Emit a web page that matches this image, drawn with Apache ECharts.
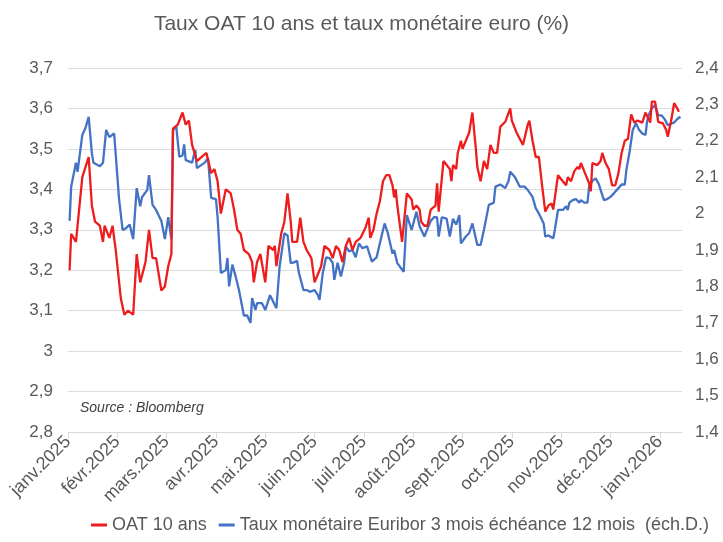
<!DOCTYPE html>
<html>
<head>
<meta charset="utf-8">
<script src="https://cdn.jsdelivr.net/npm/echarts@6/dist/echarts.min.js"></script>
<style>html,body{margin:0;padding:0;background:#fff}#c{width:723px;height:542px}</style>
</head>
<body>
<div id="c"></div>
<script>
const titleText = "Taux OAT 10 ans et taux monétaire euro (%)";
const sourceText = "Source : Bloomberg";
const seriesNames = ["OAT 10 ans", "Taux monétaire Euribor 3 mois échéance 12 mois  (éch.D.)"];
const monthLabels = ["janv.2025","févr.2025","mars.2025","avr.2025","mai.2025","juin.2025","juil.2025","août.2025","sept.2025","oct.2025","nov.2025","déc.2025","janv.2026"];

const oatDates = [
"2025-01-02","2025-01-03","2025-01-06","2025-01-10","2025-01-14","2025-01-16","2025-01-18","2025-01-21","2025-01-23","2025-01-24","2025-01-27","2025-01-29","2025-01-31",
"2025-02-03","2025-02-05","2025-02-07","2025-02-10","2025-02-12","2025-02-14","2025-02-17","2025-02-19","2025-02-21","2025-02-23","2025-02-26","2025-02-28",
"2025-03-02","2025-03-04","2025-03-05","2025-03-08","2025-03-11","2025-03-13","2025-03-15","2025-03-17","2025-03-20","2025-03-26","2025-03-29","2025-03-31",
"2025-04-02","2025-04-04","2025-04-07","2025-04-10","2025-04-12","2025-04-14","2025-04-16","2025-04-18","2025-04-21","2025-04-23","2025-04-24","2025-04-26","2025-04-28",
"2025-05-01","2025-05-03","2025-05-06","2025-05-07","2025-05-08","2025-05-11","2025-05-13","2025-05-15","2025-05-17","2025-05-18","2025-05-21","2025-05-23","2025-05-25","2025-05-27","2025-05-30",
"2025-06-01","2025-06-03","2025-06-05","2025-06-07","2025-06-10","2025-06-12","2025-06-14","2025-06-16","2025-06-18","2025-06-20","2025-06-22","2025-06-24","2025-06-26","2025-06-29",
"2025-07-02","2025-07-04","2025-07-05","2025-07-07","2025-07-09","2025-07-11","2025-07-13","2025-07-15","2025-07-17","2025-07-19","2025-07-20","2025-07-21","2025-07-22","2025-07-25","2025-07-28","2025-07-31",
"2025-08-01","2025-08-03","2025-08-05","2025-08-06","2025-08-08","2025-08-10","2025-08-12","2025-08-15","2025-08-16","2025-08-17","2025-08-20","2025-08-22","2025-08-24","2025-08-25","2025-08-26","2025-08-28","2025-08-29","2025-08-31",
"2025-09-01","2025-09-03","2025-09-05","2025-09-07","2025-09-09","2025-09-10","2025-09-12","2025-09-14","2025-09-16","2025-09-18","2025-09-20","2025-09-22","2025-09-24","2025-09-27","2025-09-30",
"2025-10-01","2025-10-04","2025-10-08","2025-10-11","2025-10-12","2025-10-14","2025-10-16","2025-10-18","2025-10-20","2025-10-22","2025-10-24","2025-10-26","2025-10-27","2025-10-30",
"2025-11-02","2025-11-04","2025-11-05","2025-11-07","2025-11-09","2025-11-11","2025-11-12","2025-11-13","2025-11-15","2025-11-18","2025-11-19","2025-11-20","2025-11-23","2025-11-25","2025-11-26","2025-11-28","2025-11-30",
"2025-12-02","2025-12-04","2025-12-06","2025-12-08","2025-12-10","2025-12-12","2025-12-14","2025-12-16","2025-12-18","2025-12-21","2025-12-23","2025-12-26","2025-12-27","2025-12-29","2025-12-31",
"2026-01-03","2026-01-05","2026-01-06","2026-01-08","2026-01-10","2026-01-12","2026-01-13"];
const oatValues = [
3.20,3.29,3.27,3.43,3.48,3.36,3.32,3.31,3.27,3.31,3.28,3.31,3.25,
3.13,3.09,3.10,3.09,3.24,3.17,3.22,3.30,3.23,3.23,3.15,3.16,
3.21,3.24,3.55,3.56,3.59,3.56,3.57,3.51,3.47,3.49,3.44,3.45,
3.42,3.34,3.40,3.39,3.35,3.30,3.29,3.25,3.24,3.22,3.17,3.22,3.24,
3.17,3.26,3.25,3.26,3.21,3.29,3.32,3.39,3.32,3.27,3.27,3.33,3.27,3.25,3.23,
3.17,3.19,3.21,3.26,3.25,3.23,3.26,3.25,3.22,3.26,3.28,3.25,3.27,3.28,
3.305,3.33,3.28,3.30,3.34,3.37,3.42,3.435,3.435,3.41,3.38,3.40,3.36,3.27,3.39,3.375,
3.35,3.36,3.35,3.32,3.31,3.31,3.35,3.36,3.415,3.345,3.47,3.46,3.45,3.42,3.46,3.45,3.49,3.52,
3.50,3.52,3.54,3.59,3.505,3.455,3.42,3.47,3.45,3.51,3.49,3.49,3.555,3.567,3.60,
3.57,3.54,3.51,3.56,3.57,3.52,3.48,3.48,3.41,3.345,3.36,3.365,3.35,3.435,
3.42,3.41,3.43,3.42,3.445,3.455,3.45,3.465,3.445,3.415,3.395,3.465,3.46,3.47,3.49,3.465,3.45,
3.41,3.41,3.44,3.49,3.52,3.525,3.585,3.565,3.57,3.565,3.59,3.565,3.617,3.617,3.567,
3.563,3.547,3.53,3.567,3.613,3.60,3.592];

const euriborDates = [
"2025-01-02","2025-01-03","2025-01-06","2025-01-07","2025-01-10","2025-01-12","2025-01-14","2025-01-16","2025-01-17","2025-01-21","2025-01-23","2025-01-25","2025-01-27","2025-01-30",
"2025-02-02","2025-02-04","2025-02-06","2025-02-08","2025-02-10","2025-02-12","2025-02-14","2025-02-15","2025-02-18","2025-02-19","2025-02-21","2025-02-23","2025-02-26","2025-02-28",
"2025-03-02","2025-03-04","2025-03-05","2025-03-07","2025-03-09","2025-03-11","2025-03-12","2025-03-13","2025-03-17","2025-03-19","2025-03-20","2025-03-25","2025-03-27","2025-03-29",
"2025-04-01","2025-04-02","2025-04-04","2025-04-07","2025-04-08","2025-04-09","2025-04-11","2025-04-13","2025-04-15","2025-04-18","2025-04-20","2025-04-22","2025-04-23","2025-04-25","2025-04-26","2025-04-29",
"2025-05-01","2025-05-04","2025-05-05","2025-05-08","2025-05-10","2025-05-13","2025-05-15","2025-05-17","2025-05-19","2025-05-21","2025-05-22","2025-05-25","2025-05-27","2025-05-29",
"2025-06-01","2025-06-03","2025-06-04","2025-06-06","2025-06-08","2025-06-10","2025-06-12","2025-06-13","2025-06-15","2025-06-17","2025-06-19","2025-06-20","2025-06-22","2025-06-24","2025-06-26","2025-06-28","2025-06-30",
"2025-07-03","2025-07-06","2025-07-09","2025-07-11","2025-07-14","2025-07-16","2025-07-19","2025-07-20","2025-07-22","2025-07-26","2025-07-28","2025-07-31",
"2025-08-03","2025-08-05","2025-08-08","2025-08-12","2025-08-14","2025-08-16","2025-08-17","2025-08-19","2025-08-22","2025-08-24","2025-08-26","2025-08-28","2025-08-30","2025-08-31",
"2025-09-03","2025-09-05","2025-09-07","2025-09-10","2025-09-12","2025-09-14","2025-09-17","2025-09-20","2025-09-21","2025-09-24","2025-09-27","2025-09-29","2025-09-30",
"2025-10-03","2025-10-06","2025-10-09","2025-10-11","2025-10-14","2025-10-16","2025-10-18","2025-10-21","2025-10-22","2025-10-24","2025-10-27","2025-10-28","2025-10-30",
"2025-11-02","2025-11-04","2025-11-05","2025-11-06","2025-11-08","2025-11-10","2025-11-12","2025-11-13","2025-11-15","2025-11-17","2025-11-18","2025-11-20","2025-11-22","2025-11-24","2025-11-25","2025-11-27","2025-11-29",
"2025-12-01","2025-12-03","2025-12-06","2025-12-08","2025-12-10","2025-12-11","2025-12-13","2025-12-15","2025-12-17","2025-12-19","2025-12-21","2025-12-23","2025-12-24","2025-12-25","2025-12-27","2025-12-29","2025-12-31",
"2026-01-02","2026-01-04","2026-01-06","2026-01-08","2026-01-10","2026-01-12","2026-01-14"];
const euriborValues = [
1.98,2.074,2.14,2.115,2.216,2.235,2.266,2.166,2.14,2.13,2.14,2.23,2.21,2.22,
2.04,1.955,1.96,1.97,1.93,2.07,2.02,2.045,2.065,2.106,2.024,2.01,1.98,1.93,
1.99,1.93,2.23,2.24,2.156,2.16,2.19,2.147,2.14,2.175,2.125,2.14,2.153,2.043,
2.04,1.99,1.837,1.845,1.878,1.80,1.86,1.827,1.79,1.72,1.72,1.70,1.768,1.735,1.754,1.754,
1.735,1.776,1.776,1.74,1.854,1.946,1.94,1.864,1.866,1.87,1.84,1.79,1.79,1.785,
1.79,1.776,1.763,1.837,1.88,1.878,1.865,1.818,1.865,1.827,1.866,1.91,1.896,1.90,1.88,1.918,1.905,
1.91,1.868,1.88,1.918,1.973,1.947,1.89,1.90,1.864,1.84,1.996,1.955,
2.005,1.965,1.937,1.98,1.99,1.99,1.937,1.99,1.986,1.937,1.986,1.97,1.996,1.918,
1.937,1.946,1.973,1.914,1.914,1.955,2.024,2.03,2.074,2.08,2.07,2.09,2.115,
2.10,2.074,2.074,2.065,2.046,2.015,2.00,1.973,1.937,1.94,1.932,1.955,2.01,
2.01,2.02,2.01,2.03,2.037,2.04,2.03,2.037,2.03,2.03,2.074,2.09,2.097,2.08,2.065,2.037,2.04,
2.046,2.055,2.07,2.08,2.08,2.12,2.17,2.23,2.248,2.23,2.22,2.216,2.253,2.27,2.29,2.298,2.27,
2.27,2.26,2.243,2.247,2.25,2.26,2.266];

function monthPos(s){
  const p = s.split('-').map(Number);
  const dim = new Date(p[0], p[1], 0).getDate();
  return (p[0]-2025)*12 + (p[1]-1) + (p[2]-1)/dim;
}
function pairs(dates, vals){ return dates.map((d,i)=>[monthPos(d), vals[i]]); }
function fmt(v){ return String(Number(v.toFixed(1))).replace('.', ','); }

const FONT = "'Liberation Sans', Arial, sans-serif";
const GREY = '#595959';
const tickVals = monthLabels.map((_, i) => i);

const chart = echarts.init(document.getElementById('c'));
chart.setOption({
  animation: false,
  backgroundColor: '#ffffff',
  textStyle: { fontFamily: FONT },
  title: {
    text: titleText, left: 'center', top: 9,
    textStyle: { fontFamily: FONT, fontSize: 21, fontWeight: 'normal', color: GREY }
  },
  grid: { left: 68, right: 41, top: 68, bottom: 110 },
  legend: {
    bottom: 3, left: 86, itemGap: 12,
    icon: 'rect', itemWidth: 16, itemHeight: 3,
    textStyle: { fontFamily: FONT, fontSize: 18, color: GREY },
    data: seriesNames
  },
  graphic: [{
    type: 'text', left: 80, top: 401,
    style: { text: sourceText, fontFamily: FONT, fontSize: 14, fontStyle: 'italic', fill: '#404040' }
  }],
  xAxis: {
    type: 'value', min: 0, max: 12.45, interval: 1,
    axisLine: { show: true, lineStyle: { color: '#d9d9d9' } },
    axisTick: { show: true, length: 6, lineStyle: { color: '#d9d9d9' }, customValues: tickVals },
    splitLine: { show: false },
    axisLabel: {
      customValues: tickVals,
      rotate: 45, fontSize: 18, color: GREY, fontFamily: FONT, margin: 7,
      formatter: v => monthLabels[Math.round(v)] || ''
    }
  },
  yAxis: [{
    type: 'value', min: 2.8, max: 3.7, interval: 0.1, position: 'left',
    axisLine: { show: false }, axisTick: { show: false },
    splitLine: { lineStyle: { color: '#dcdcdc', width: 1 } },
    axisLabel: { fontSize: 17, color: GREY, fontFamily: FONT, margin: 15, formatter: fmt }
  }, {
    type: 'value', min: 1.4, max: 2.4, interval: 0.1, position: 'right',
    axisLine: { show: false }, axisTick: { show: false },
    splitLine: { show: false },
    axisLabel: { fontSize: 17, color: GREY, fontFamily: FONT, margin: 13, formatter: fmt }
  }],
  series: [{
    name: seriesNames[0], type: 'line', yAxisIndex: 0,
    data: pairs(oatDates, oatValues),
    showSymbol: false, symbol: 'none',
    lineStyle: { color: '#ee1c1c', width: 2.3 }, itemStyle: { color: '#ee1c1c' }, z: 3
  }, {
    name: seriesNames[1], type: 'line', yAxisIndex: 1,
    data: pairs(euriborDates, euriborValues),
    showSymbol: false, symbol: 'none',
    lineStyle: { color: '#4472c4', width: 2.3 }, itemStyle: { color: '#4472c4' }, z: 2
  }]
});
</script>
</body>
</html>
